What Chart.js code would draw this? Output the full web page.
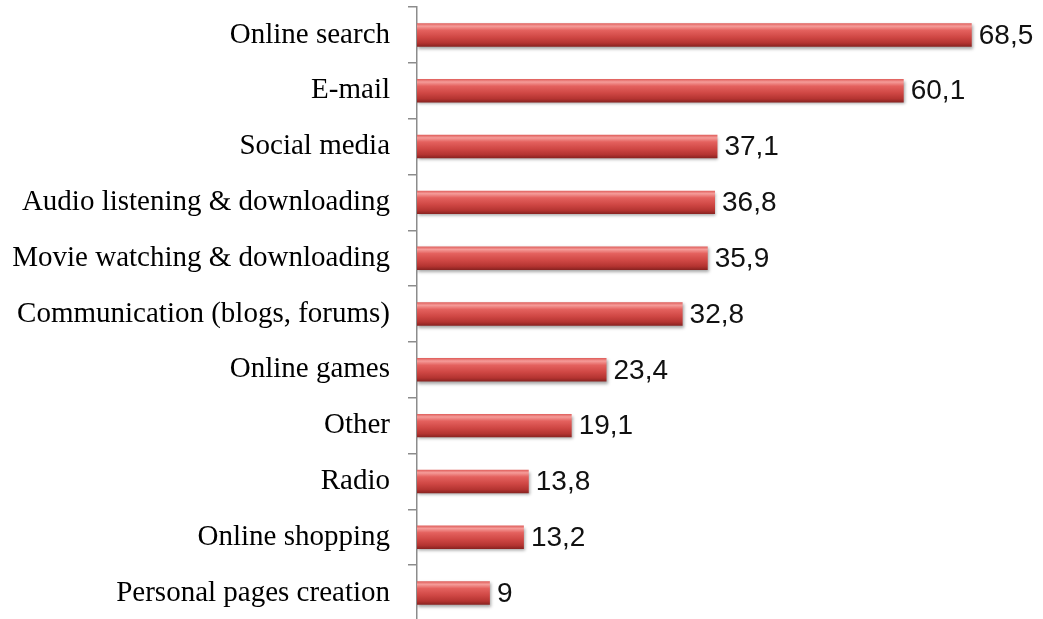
<!DOCTYPE html>
<html>
<head>
<meta charset="utf-8">
<script src="https://cdn.jsdelivr.net/npm/chart.js@4.4.0/dist/chart.umd.min.js"></script>
<style>
html,body{margin:0;padding:0;background:#fff;overflow:hidden;width:1043px;height:619px;}
#wrap{position:relative;width:1043px;height:622px;}
</style>
</head>
<body>
<div id="wrap"><canvas id="c"></canvas></div>
<script>
const categories = ["Online search","E-mail","Social media","Audio listening & downloading","Movie watching & downloading","Communication (blogs, forums)","Online games","Other","Radio","Online shopping","Personal pages creation"];
const values = [68.5, 60.1, 37.1, 36.8, 35.9, 32.8, 23.4, 19.1, 13.8, 13.2, 9];
const valueLabels = ["68,5","60,1","37,1","36,8","35,9","32,8","23,4","19,1","13,8","13,2","9"];

function barGradient(ctx){
  const chart = ctx.chart;
  const ys = chart.scales && chart.scales.y;
  if(!chart.chartArea || !ys || ctx.dataIndex === undefined) return '#C9413E';
  const cy = ys.getPixelForValue(ctx.dataIndex);
  const h = 23;
  const top = cy - h/2, bot = cy + h/2;
  const g = chart.ctx.createLinearGradient(0, top, 0, bot);
  g.addColorStop(0, '#E0605D');
  g.addColorStop(0.12, '#F59C99');
  g.addColorStop(0.3, '#E4615E');
  g.addColorStop(0.6, '#CF4744');
  g.addColorStop(0.85, '#B43431');
  g.addColorStop(1, '#8A2321');
  return g;
}

const shadowPlugin = {
  id:'shadow',
  beforeDatasetDraw(chart){
    const c = chart.ctx;
    c.save();
    c.shadowColor = 'rgba(0,0,0,0.35)';
    c.shadowBlur = 3;
    c.shadowOffsetX = 1;
    c.shadowOffsetY = 2;
  },
  afterDatasetDraw(chart){ chart.ctx.restore(); }
};

const labelPlugin = {
  id:'valueLabels',
  afterDatasetsDraw(chart){
    const c = chart.ctx;
    const meta = chart.getDatasetMeta(0);
    c.save();
    c.font = '28px "Liberation Sans", Arial, sans-serif';
    c.fillStyle = '#111';
    c.textAlign = 'left';
    c.textBaseline = 'middle';
    meta.data.forEach((bar, i) => {
      c.fillText(valueLabels[i], bar.x + 7, bar.y + 1);
    });
    c.restore();
  }
};

new Chart(document.getElementById('c'), {
  type:'bar',
  data:{
    labels: categories,
    datasets:[{
      data: values,
      backgroundColor: barGradient,
      borderWidth: 0,
      categoryPercentage: 1,
      barPercentage: 0.42
    }]
  },
  options:{
    indexAxis:'y',
    responsive:true,
    maintainAspectRatio:false,
    animation:false,
    layout:{padding:{top:7,bottom:1,left:0,right:0}},
    plugins:{legend:{display:false},tooltip:{enabled:false}},
    scales:{
      x:{display:false,min:0,max:77.3},
      y:{
        offset:true,
        afterFit(scale){ scale.width = 417; scale.paddingTop = 0; scale.paddingBottom = 0; },
        grid:{offset:true,drawOnChartArea:false,drawTicks:true,tickLength:9,color:'#8C8C8C',lineWidth:1.5},
        border:{display:true,color:'#8C8C8C',width:1.5},
        ticks:{padding:18,color:'#000',font:{family:'"Liberation Serif", "Times New Roman", serif',size:29}}
      }
    }
  },
  plugins:[shadowPlugin,labelPlugin]
});
</script>
</body>
</html>
